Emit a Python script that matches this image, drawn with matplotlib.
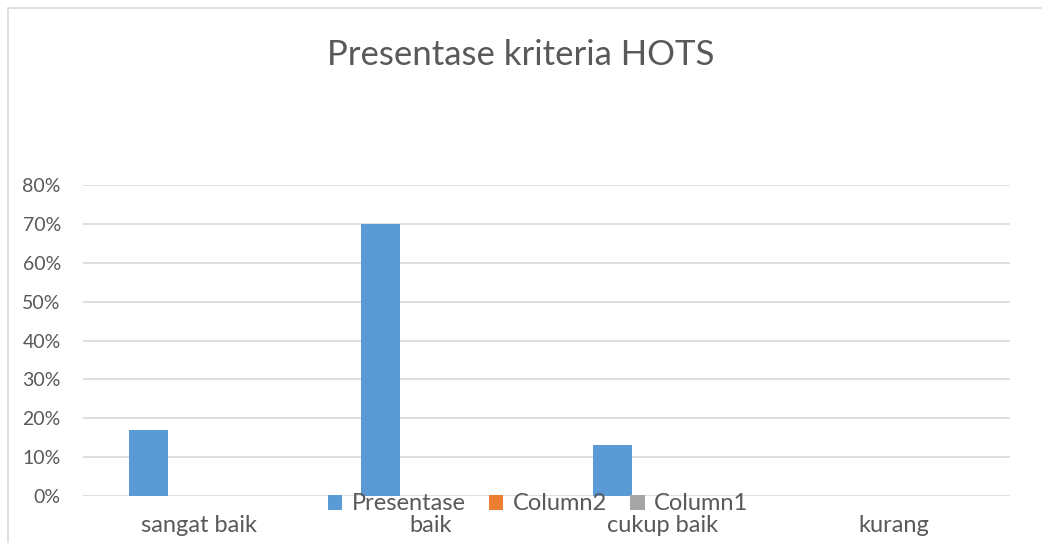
import matplotlib.pyplot as plt
from matplotlib.patches import Rectangle
import numpy as np

categories = ['sangat baik', 'baik', 'cukup baik', 'kurang']
presentase = [0.17, 0.70, 0.13, 0.0]
column2 = [0.0, 0.0, 0.0, 0.0]
column1 = [0.0, 0.0, 0.0, 0.0]
series_names = ['Presentase', 'Column2', 'Column1']
yticks = [0.0, 0.1, 0.2, 0.3, 0.4, 0.5, 0.6, 0.7, 0.8]

COLOURS = ['#5b9bd5', '#ed7d31', '#a5a5a5']
TEXT = '#595959'
GRID = '#d9d9d9'

plt.rcParams['font.family'] = ['Lato', 'DejaVu Sans']

W, H = 1042, 543
fig = plt.figure(figsize=(W / 100, H / 100), dpi=100)

# chart area border (Excel style)
fig.patches.append(Rectangle((8 / W, -0.1), 1.2, 1 - 8 / H + 0.1,
                             transform=fig.transFigure, fill=False,
                             edgecolor=GRID, linewidth=1.2))

ax = fig.add_axes([83 / W, 1 - 496 / H, (1010 - 83) / W, (496 - 185) / H])

x = np.arange(len(categories))
bw = 0.168
off = 0.216
for i, vals in enumerate([presentase, column2, column1]):
    ax.bar(x + (i - 1) * off, vals, bw, color=COLOURS[i], label=series_names[i], zorder=3)

ax.set_xlim(-0.5, len(categories) - 0.5)
ax.set_ylim(0, 0.8)
ax.set_yticks(yticks)
ax.set_yticklabels([f'{int(round(v * 100))}%' for v in yticks])
ax.set_xticks(x)
ax.set_xticklabels(categories)
ax.tick_params(axis='y', length=0, pad=16, labelsize=14, colors=TEXT)
ax.tick_params(axis='x', length=0, pad=14, labelsize=17, colors=TEXT)
ax.grid(axis='y', color=GRID, linewidth=1.2, zorder=0)
for s in ax.spines.values():
    s.set_visible(False)

fig.text(0.5, 1 - 55 / H, 'Presentase kriteria HOTS', ha='center', va='center',
         fontsize=25, color=TEXT)

ax.legend(loc='center', bbox_to_anchor=(538 / W, 1 - 504 / H), bbox_transform=fig.transFigure,
          ncol=3, frameon=False, fontsize=17, labelcolor=TEXT, handlelength=0.6,
          handleheight=0.6, handletextpad=0.4, columnspacing=1.0, borderpad=0)

fig.savefig('out.png', dpi=100)
